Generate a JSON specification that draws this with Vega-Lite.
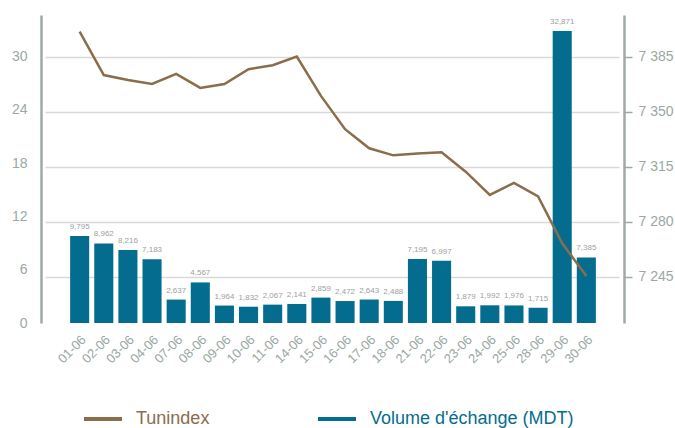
{
  "$schema": "https://vega.github.io/schema/vega-lite/v6.json",
  "width": 583,
  "height": 308,
  "autosize": {"type": "none"},
  "padding": {"left": 41, "top": 15, "right": 51, "bottom": 105},
  "config": {"font": "Liberation Sans", "view": {"stroke": null}},
  "data": {
    "values": [
      {"date": "01-06", "volume": 9795, "index": 7401.1},
      {"date": "02-06", "volume": 8962, "index": 7373.5},
      {"date": "03-06", "volume": 8216, "index": 7370.4},
      {"date": "04-06", "volume": 7183, "index": 7367.8},
      {"date": "07-06", "volume": 2637, "index": 7374.2},
      {"date": "08-06", "volume": 4567, "index": 7365.3},
      {"date": "09-06", "volume": 1964, "index": 7367.8},
      {"date": "10-06", "volume": 1832, "index": 7377.2},
      {"date": "11-06", "volume": 2067, "index": 7379.7},
      {"date": "14-06", "volume": 2141, "index": 7385.2},
      {"date": "15-06", "volume": 2859, "index": 7360.2},
      {"date": "16-06", "volume": 2472, "index": 7339.0},
      {"date": "17-06", "volume": 2643, "index": 7326.9},
      {"date": "18-06", "volume": 2488, "index": 7322.4},
      {"date": "21-06", "volume": 7195, "index": 7323.5},
      {"date": "22-06", "volume": 6997, "index": 7324.3},
      {"date": "23-06", "volume": 1879, "index": 7312.0},
      {"date": "24-06", "volume": 1992, "index": 7297.2},
      {"date": "25-06", "volume": 1976, "index": 7304.8},
      {"date": "28-06", "volume": 1715, "index": 7296.3},
      {"date": "29-06", "volume": 32871, "index": 7266.4},
      {"date": "30-06", "volume": 7385, "index": 7245.6}
    ]
  },
  "encoding": {
    "x": {
      "field": "date",
      "type": "ordinal",
      "sort": null,
      "scale": {"type": "band", "paddingInner": 0.21, "paddingOuter": 1, "range": [5, 579]},
      "axis": {
        "title": null,
        "labelAngle": -45,
        "ticks": false,
        "domain": false,
        "labelColor": "#9aa8a4",
        "labelFontSize": 13,
        "labelPadding": 10
      }
    }
  },
  "layer": [
    {
      "encoding": {
        "y": {
          "field": "volume",
          "type": "quantitative",
          "scale": {"domain": [0, 34670], "nice": false},
          "axis": {
            "orient": "left",
            "values": [0, 6000, 12000, 18000, 24000, 30000],
            "labelExpr": "format(datum.value/1000, 'd')",
            "grid": false,
            "ticks": false,
            "domainColor": "#9fa9a5",
            "domainWidth": 2.5,
            "labelColor": "#9aa8a4",
            "labelFontSize": 14,
            "labelPadding": 14,
            "title": null
          }
        }
      },
      "layer": [
        {
          "mark": {"type": "bar", "color": "#046d8f"},
          "encoding": {
            "color": {
              "datum": "Volume d'échange (MDT)",
              "type": "nominal",
              "scale": {"range": ["#046d8f"]},
              "legend": {
                "orient": "none",
                "legendX": 275,
                "legendY": 383,
                "title": null,
                "symbolType": "stroke",
                "symbolSize": 1444,
                "symbolStrokeWidth": 4,
                "symbolStrokeColor": "#046d8f",
                "labelColor": "#046d8f",
                "labelFontSize": 18,
                "labelOffset": 12,
                "labelLimit": 400
              }
            }
          }
        },
        {
          "mark": {"type": "text", "dy": -5, "fontSize": 8, "color": "#a0a0a0", "baseline": "bottom"},
          "encoding": {"text": {"field": "volume", "type": "quantitative", "format": ","}}
        },
        {
          "mark": {"type": "rule", "color": "#9fa9a5", "strokeWidth": 2.5},
          "encoding": {"y": {"datum": 0}}
        }
      ]
    },
    {
      "mark": {"type": "line", "strokeWidth": 2.5, "color": "#8b6d4b"},
      "encoding": {
        "y": {
          "field": "index",
          "type": "quantitative",
          "scale": {"domain": [7215.7, 7411.7], "nice": false},
          "axis": {
            "orient": "right",
            "values": [7245, 7280, 7315, 7350, 7385],
            "labelExpr": "replace(format(datum.value, ','), ',', ' ')",
            "grid": true,
            "gridColor": "#d9d9d9",
            "gridWidth": 1.5,
            "tickSize": 8,
            "tickColor": "#9fa9a5",
            "tickWidth": 1.5,
            "domainColor": "#9fa9a5",
            "domainWidth": 2.5,
            "labelColor": "#9aa8a4",
            "labelFontSize": 14,
            "labelPadding": 6,
            "title": null
          }
        },
        "color": {
          "datum": "Tunindex",
          "type": "nominal",
          "scale": {"range": ["#8b6d4b"]},
          "legend": {
            "orient": "none",
            "legendX": 41,
            "legendY": 383,
            "title": null,
            "symbolType": "stroke",
            "symbolSize": 1444,
            "symbolStrokeWidth": 4,
            "symbolStrokeColor": "#8b6d4b",
            "labelColor": "#8b6d4b",
            "labelFontSize": 18,
            "labelOffset": 12,
            "labelLimit": 400
          }
        }
      }
    }
  ],
  "resolve": {"scale": {"y": "independent", "color": "independent"}}
}
